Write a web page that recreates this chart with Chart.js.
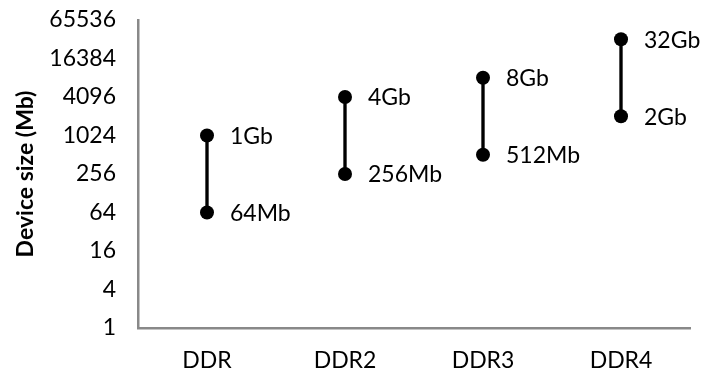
<!DOCTYPE html>
<html>
<head>
<meta charset="utf-8">
<script src="https://cdn.jsdelivr.net/npm/chart.js@4"></script>
<style>
  html, body { margin: 0; padding: 0; background: #ffffff; }
  #wrap { width: 708px; height: 379px; }
</style>
</head>
<body>
<div id="wrap"><canvas id="c" width="708" height="379"></canvas></div>
<script>
const categories = ['DDR', 'DDR2', 'DDR3', 'DDR4'];
const minValues = [64, 256, 512, 2048];
const maxValues = [1024, 4096, 8192, 32768];
const minLabels = ['64Mb', '256Mb', '512Mb', '2Gb'];
const maxLabels = ['1Gb', '4Gb', '8Gb', '32Gb'];
const yTicks = [1, 4, 16, 64, 256, 1024, 4096, 16384, 65536];
const yTitle = 'Device size (Mb)';

const FONT = 'Lato, "Open Sans", sans-serif';

const labelPlugin = {
  id: 'pointLabels',
  afterDatasetsDraw(chart) {
    const ctx = chart.ctx;
    ctx.save();
    ctx.font = '23px ' + FONT;
    ctx.fillStyle = '#000';
    ctx.textAlign = 'left';
    ctx.textBaseline = 'middle';
    [[1, minLabels], [2, maxLabels]].forEach(([dsIndex, labels]) => {
      const meta = chart.getDatasetMeta(dsIndex);
      meta.data.forEach((pt, i) => {
        ctx.fillText(labels[i], pt.x + 23, pt.y + 1);
      });
    });
    ctx.restore();
  }
};

new Chart(document.getElementById('c'), {
  type: 'bar',
  data: {
    labels: categories,
    datasets: [
      {
        type: 'bar',
        data: categories.map((c, i) => [minValues[i], maxValues[i]]),
        backgroundColor: '#000',
        borderWidth: 0,
        barThickness: 2.7,
        order: 2
      },
      {
        type: 'line',
        data: minValues,
        showLine: false,
        pointRadius: 7,
        pointBackgroundColor: '#000',
        pointBorderColor: '#000',
        pointBorderWidth: 0,
        order: 1
      },
      {
        type: 'line',
        data: maxValues,
        showLine: false,
        pointRadius: 7,
        pointBackgroundColor: '#000',
        pointBorderColor: '#000',
        pointBorderWidth: 0,
        order: 1
      }
    ]
  },
  options: {
    responsive: false,
    animation: false,
    devicePixelRatio: 1,
    layout: { padding: { top: 20, right: 18, left: 0, bottom: 0 } },
    plugins: {
      legend: { display: false },
      tooltip: { enabled: false }
    },
    scales: {
      x: {
        grid: { display: false, drawTicks: false },
        border: { color: '#898989', width: 2.5 },
        ticks: { color: '#000', font: { family: FONT, size: 23 }, padding: 19 },
        afterFit(s) { s.height = 51; s.paddingLeft = 0; s.paddingRight = 0; }
      },
      y: {
        type: 'logarithmic',
        min: 1,
        max: 65536,
        grid: { display: false, drawTicks: false },
        border: { color: '#898989', width: 2.5 },
        ticks: {
          color: '#000',
          font: { family: FONT, size: 23 },
          padding: 22,
          autoSkip: false,
          callback: (v) => String(v)
        },
        afterBuildTicks(s) { s.ticks = yTicks.map(v => ({ value: v })); },
        title: {
          display: true,
          text: yTitle,
          color: '#000',
          font: { family: FONT, size: 23, weight: 'bold' },
          padding: { top: 12, bottom: 0 }
        },
        afterFit(s) { s.width = 138; s.paddingTop = 0; s.paddingBottom = 0; }
      }
    }
  },
  plugins: [labelPlugin]
});
</script>
</body>
</html>
